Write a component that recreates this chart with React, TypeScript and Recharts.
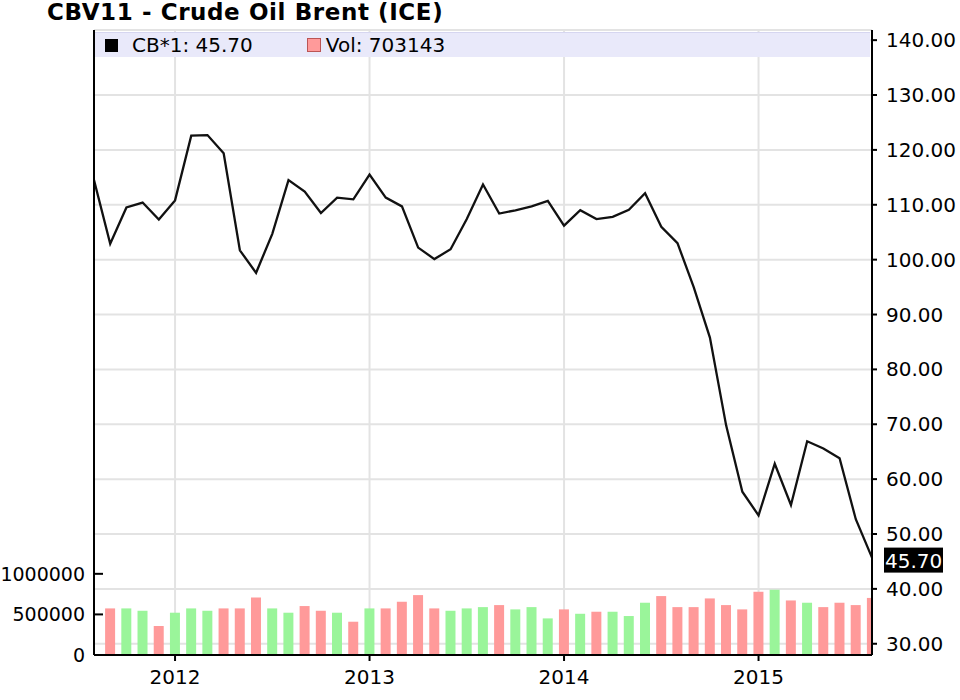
import React from 'react';
import {
  ComposedChart,
  Line,
  Bar,
  Cell,
  XAxis,
  YAxis,
  CartesianGrid,
  ReferenceLine,
  Legend,
} from 'recharts';

// Month keys (Aug 2011 .. Aug 2015)
const monthKeys = [
  '2011-08', '2011-09', '2011-10', '2011-11', '2011-12',
  '2012-01', '2012-02', '2012-03', '2012-04', '2012-05', '2012-06', '2012-07', '2012-08', '2012-09', '2012-10', '2012-11', '2012-12',
  '2013-01', '2013-02', '2013-03', '2013-04', '2013-05', '2013-06', '2013-07', '2013-08', '2013-09', '2013-10', '2013-11', '2013-12',
  '2014-01', '2014-02', '2014-03', '2014-04', '2014-05', '2014-06', '2014-07', '2014-08', '2014-09', '2014-10', '2014-11', '2014-12',
  '2015-01', '2015-02', '2015-03', '2015-04', '2015-05', '2015-06', '2015-07', '2015-08',
];

// Monthly close (CB*1)
const prices = [
  114.5, 102.9, 109.5, 110.4, 107.3,
  110.8, 122.6, 122.7, 119.4, 101.7, 97.6, 104.7, 114.5, 112.4, 108.5, 111.3, 111.0,
  115.5, 111.3, 109.7, 102.2, 100.1, 101.9, 107.4, 113.7, 108.4, 109.0, 109.7, 110.7,
  106.2, 109.0, 107.4, 107.8, 109.1, 112.1, 106.0, 103.0, 95.0, 85.8, 69.8, 57.7,
  53.4, 62.8, 55.3, 66.9, 65.6, 63.8, 52.7, 45.7,
];

// Monthly volume (no bar for the first month)
const volumes = [
  null, 574000, 574000, 545000, 357000,
  521000, 574000, 545000, 574000, 574000, 709000, 574000, 521000, 603000, 545000, 521000, 410000,
  574000, 574000, 656000, 738000, 574000, 545000, 574000, 590000, 615000, 562000, 590000, 451000,
  562000, 508000, 533000, 533000, 480000, 644000, 726000, 590000, 590000, 697000, 615000, 562000,
  779000, 804000, 672000, 644000, 590000, 644000, 615000, 703143,
];

// Bar direction (true = up / green, false = down / red)
const volumeUp = [
  null, false, true, true, false,
  true, true, true, false, false, false, true, true, false, false, true, false,
  true, false, false, false, false, true, true, true, false, true, true, true,
  false, true, false, true, true, true, false, false, false, false, false, false,
  false, true, false, true, false, false, false, false,
];

const yearTicks = [0, 12, 24, 36];
const yearLabels = ['2012', '2013', '2014', '2015'];
const priceTicks = [30, 40, 50, 60, 70, 80, 90, 100, 110, 120, 130, 140];
const volumeTicks = [0, 500000, 1000000];

const title = 'CBV11 - Crude Oil Brent (ICE)';
const seriesName = 'CB*1';
const volName = 'Vol';

const X_MIN = -5;
const X_MAX = 43;

const monthIndex = (key: string) => {
  const [y, m] = key.split('-').map(Number);
  return (y - 2012) * 12 + (m - 1);
};

const data = monthKeys.map((k, i) => ({
  m: monthIndex(k),
  price: prices[i],
  vol: volumes[i],
  up: volumeUp[i],
}));

const lastPrice = prices[prices.length - 1];
const lastVol = volumes[volumes.length - 1];

const FONT = '"DejaVu Sans", Verdana, sans-serif';
const RED = '#ff9a9a';
const GREEN = '#9af59a';

const LastLabel = (props: any) => {
  const { viewBox } = props;
  if (!viewBox) return null;
  const x = viewBox.x + viewBox.width + 12;
  const y = viewBox.y;
  return (
    <g>
      <rect x={x} y={y - 10} width={59} height={25} fill="#000" />
      <text x={x + 1} y={y + 3} dy="0.36em" fill="#fff" fontSize={20} fontFamily={FONT}>
        {lastPrice.toFixed(2)}
      </text>
    </g>
  );
};

// short inward tick mark for the volume axis, drawn from the left frame
const InwardTick = (props: any) => {
  const { viewBox } = props;
  if (!viewBox) return null;
  return (
    <line
      x1={viewBox.x}
      x2={viewBox.x + 9}
      y1={viewBox.y}
      y2={viewBox.y}
      stroke="#000"
      strokeWidth={2}
    />
  );
};

const LegendBand = () => (
  <div
    style={{
      width: '100%',
      height: '100%',
      background: '#e9e9fa',
      borderTop: '1px solid #d6d6f0',
      boxSizing: 'border-box',
      fontFamily: FONT,
      fontSize: 20,
      color: '#000',
      display: 'flex',
      alignItems: 'center',
      lineHeight: '22px',
    }}
  >
    <span style={{ display: 'inline-block', width: 13, height: 13, background: '#000', marginLeft: 10 }} />
    <span style={{ marginLeft: 14 }}>{`${seriesName}: ${lastPrice.toFixed(2)}`}</span>
    <span
      style={{
        display: 'inline-block',
        width: 12,
        height: 12,
        background: RED,
        border: '1px solid #b55',
        marginLeft: 54,
      }}
    />
    <span style={{ marginLeft: 5 }}>{`${volName}: ${lastVol}`}</span>
  </div>
);

export default function App() {
  return (
    <div style={{ position: 'absolute', left: 0, top: 0, width: 960, height: 700, background: '#fff' }}>
      <div
        style={{
          position: 'absolute',
          left: 47,
          top: 1,
          fontFamily: FONT,
          fontWeight: 'bold',
          fontSize: 23,
          lineHeight: '23px',
          letterSpacing: 0.6,
          color: '#000',
          whiteSpace: 'nowrap',
        }}
      >
        {title}
      </div>
      <ComposedChart
        width={960}
        height={700}
        data={data}
        margin={{ top: 30, right: 0, bottom: 0, left: 0 }}
        style={{ position: 'absolute', left: 0, top: 0 }}
      >
        <CartesianGrid
          yAxisId="price"
          stroke="#e3e3e3"
          strokeWidth={2}
          horizontal
          vertical
        />
        <XAxis
          dataKey="m"
          type="number"
          domain={[X_MIN, X_MAX]}
          allowDataOverflow
          ticks={yearTicks}
          tickFormatter={(v: number) => yearLabels[yearTicks.indexOf(v)]}
          height={45}
          tickSize={6}
          tickMargin={9}
          axisLine={{ stroke: '#000', strokeWidth: 2 }}
          tickLine={{ stroke: '#000', strokeWidth: 2 }}
          tick={{ fill: '#000', fontSize: 20, fontFamily: FONT }}
        />
        <XAxis
          xAxisId="top"
          dataKey="m"
          type="number"
          domain={[X_MIN, X_MAX]}
          allowDataOverflow
          orientation="top"
          height={0}
          tick={false}
          tickLine={false}
          axisLine={{ stroke: '#000', strokeWidth: 2 }}
        />
        <YAxis
          yAxisId="vol"
          orientation="left"
          type="number"
          domain={[0, 7700000]}
          allowDataOverflow
          ticks={volumeTicks}
          width={94}
          tickSize={0}
          tickMargin={9}
          tickLine={false}
          axisLine={{ stroke: '#000', strokeWidth: 2 }}
          tick={{ fill: '#000', fontSize: 19, fontFamily: FONT }}
        />
        <YAxis
          yAxisId="price"
          orientation="right"
          type="number"
          domain={[27.95, 141.85]}
          allowDataOverflow
          ticks={priceTicks}
          tickFormatter={(v: number) => v.toFixed(2)}
          width={88}
          tickSize={5}
          tickMargin={9}
          axisLine={{ stroke: '#000', strokeWidth: 2 }}
          tickLine={{ stroke: '#000', strokeWidth: 2 }}
          tick={{ fill: '#000', fontSize: 20, fontFamily: FONT }}
        />
        <Legend
          layout="horizontal"
          verticalAlign="middle"
          align="center"
          content={() => <LegendBand />}
          wrapperStyle={{ position: 'absolute', top: 32, left: 95, width: 775, height: 25 }}
        />
        <Bar yAxisId="vol" dataKey="vol" barSize={10} isAnimationActive={false}>
          {data.map((d, i) => (
            <Cell key={i} fill={d.up ? GREEN : RED} />
          ))}
        </Bar>
        <Line
          yAxisId="price"
          dataKey="price"
          type="linear"
          stroke="#111"
          strokeWidth={2.3}
          dot={false}
          activeDot={false}
          isAnimationActive={false}
        />
        {volumeTicks.slice(1).map((v) => (
          <ReferenceLine
            key={v}
            yAxisId="vol"
            y={v}
            stroke="none"
            label={(p: any) => <InwardTick {...p} />}
          />
        ))}
        <ReferenceLine
          yAxisId="price"
          y={lastPrice}
          stroke="none"
          label={(p: any) => <LastLabel {...p} />}
        />
      </ComposedChart>
    </div>
  );
}
